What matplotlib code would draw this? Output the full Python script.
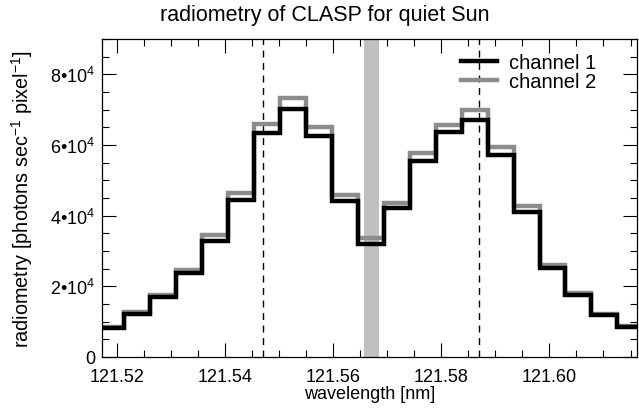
import numpy as np
import matplotlib
matplotlib.use("Agg")
import matplotlib.pyplot as plt
from matplotlib.ticker import MultipleLocator, FuncFormatter

plt.rcParams['font.family'] = ['Liberation Sans', 'DejaVu Sans']
plt.rcParams['mathtext.fontset'] = 'custom'
plt.rcParams['mathtext.rm'] = 'Liberation Sans'

# bin centres [nm] and radiometry [photons/s/pixel]
wl0 = 121.51896
dwl = 0.0048
ch1 = [8100, 12300, 17000, 23900, 32700, 44500, 63500, 70300, 62500, 44100, 32000,
       42100, 55500, 63700, 67200, 57100, 41100, 25300, 17500, 11800, 8400]
ch2 = [8500, 12800, 17600, 24700, 34400, 46400, 66000, 73200, 65100, 45900, 33600,
       43500, 57600, 65600, 69800, 59300, 42600, 26100, 18100, 12300, 8700]
wl = wl0 + dwl * np.arange(len(ch1))
edges = np.append(wl - dwl / 2, wl[-1] + dwl / 2)
line_center = 121.567
line_width = 0.0028
dashed = [121.547, 121.587]

fig = plt.figure(figsize=(6.39, 4.14), dpi=100)
ax = fig.add_axes([102/639, 1 - 358/414, 535/639, 318/414])

ax.axvspan(line_center - line_width/2, line_center + line_width/2, color='#c0c0c0', lw=0, zorder=0)
for d in dashed:
    ax.axvline(d, color='k', ls=(0, (5, 4)), lw=1.0, zorder=1)

ax.stairs(ch2, edges, baseline=None, color='#8c8c8c', lw=3.2, label='channel 2', zorder=2)
ax.stairs(ch1, edges, baseline=None, color='k', lw=3.2, label='channel 1', zorder=3)

ax.set_xlim(121.5172, 121.6162)
ax.set_ylim(0, 9e4)
ax.xaxis.set_major_locator(MultipleLocator(0.02))
ax.xaxis.set_minor_locator(MultipleLocator(0.005))
ax.yaxis.set_major_locator(MultipleLocator(2e4))
ax.yaxis.set_minor_locator(MultipleLocator(5e3))
ax.xaxis.set_major_formatter(FuncFormatter(lambda v, p: '%.2f' % v))


def yfmt(v, p):
    if v == 0:
        return '0'
    return '%d•10$^{4}$' % round(v / 1e4)


ax.yaxis.set_major_formatter(FuncFormatter(yfmt))
ax.tick_params(which='both', direction='in', top=True, right=True, labelsize=13, width=0.8)
ax.tick_params(which='major', length=10)
ax.tick_params(which='minor', length=5)
ax.tick_params(axis='x', pad=8)
ax.tick_params(axis='y', pad=5)
for s in ax.spines.values():
    s.set_linewidth(0.9)

ax.set_xlabel('wavelength [nm]', fontsize=13, labelpad=0)
ax.set_ylabel(r'radiometry [photons sec$^{-1}$ pixel$^{-1}$]', fontsize=14.3, labelpad=11)
fig.text(325/639, 1 - 16/414, 'radiometry of CLASP for quiet Sun', fontsize=15.5,
         ha='center', va='center')

h, l = ax.get_legend_handles_labels()
ax.legend(h[::-1], l[::-1], loc='upper right', frameon=False, fontsize=14.5,
          handlelength=1.8, handletextpad=0.6, labelspacing=0.0,
          bbox_to_anchor=(0.95, 1.0), borderaxespad=0.3)

fig.savefig('out.png', dpi=100)
